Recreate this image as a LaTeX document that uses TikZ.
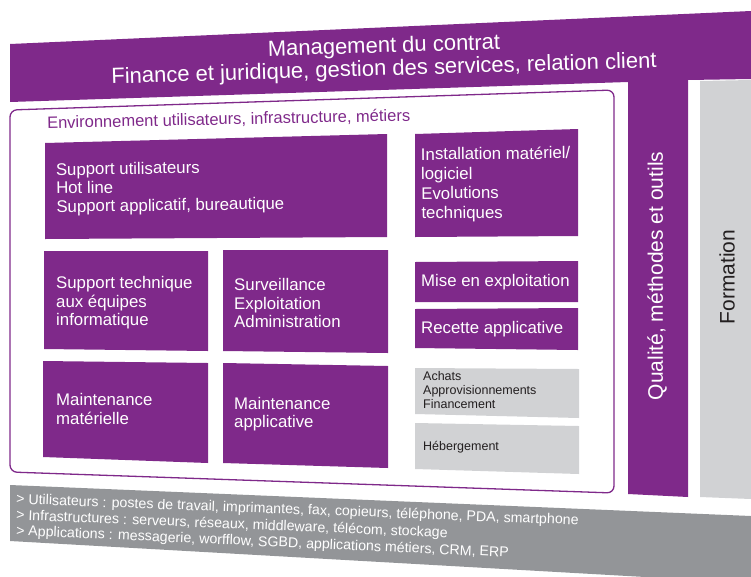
\documentclass[tikz,border=0pt]{standalone}
\usepackage{fontspec}
\setmainfont{Liberation Sans}
\definecolor{vio}{RGB}{127,41,138}
\definecolor{lgray}{RGB}{209,210,212}
\definecolor{dgray}{RGB}{147,149,152}
\definecolor{txtdark}{RGB}{35,31,32}
\begin{document}
\begin{tikzpicture}[x=1pt,y=-1pt,
  vbox/.style={fill=vio},
  gbox/.style={fill=lgray},
  btxt/.style={text=white, font=\fontsize{16.8}{18.5}\selectfont, align=left, inner sep=0pt, anchor=west},
  gtxt/.style={text=txtdark, font=\fontsize{12.5}{14}\selectfont, align=left, inner sep=0pt, anchor=west},
  coltxt/.style={font=\fontsize{21}{23}\selectfont, inner sep=0pt, rotate=90},
  ttxt/.style={text=white, font=\fontsize{22}{23}\selectfont, inner sep=0pt, rotate=1.7},
  foot/.style={text=white, font=\fontsize{14.2}{16}\selectfont, inner sep=0pt, anchor=west}]
\useasboundingbox (0,0) rectangle (751,576);
\clip (0,0) rectangle (751,576);
% banner + quality column
\fill[vio] (10,44) -- (751,11) -- (751,79) -- (688,80) -- (688,497) -- (628,494) -- (628,82) -- (10,102) -- cycle;
% formation column
\fill[lgray] (700,81) -- (751,80) -- (751,499) -- (700,497) -- cycle;
% bottom band
\fill[dgray] (10,485) -- (751,516) -- (751,583) -- (10,541) -- cycle;
% environment frame
\draw[vio, line width=1.3pt, rounded corners=7pt] (10,110) -- (614,90) -- (614,493) -- (10,472) -- cycle;
% boxes
\fill[vbox] (45,143) -- (387,134) -- (387,237) -- (45,239) -- cycle;
\fill[vbox] (415,134) -- (578,129) -- (578,236) -- (415,237) -- cycle;
\fill[vbox] (44,251) -- (208,251) -- (208,351) -- (44,349) -- cycle;
\fill[vbox] (223,250) -- (388,250) -- (388,353) -- (223,351) -- cycle;
\fill[vbox] (415,262) -- (578,261) -- (578,302) -- (415,302) -- cycle;
\fill[vbox] (415,309) -- (578,308) -- (578,350) -- (415,348) -- cycle;
\fill[vbox] (43,361) -- (208,363) -- (208,463) -- (43,457) -- cycle;
\fill[vbox] (223,363) -- (388,366) -- (388,468) -- (223,463) -- cycle;
\fill[gbox] (415,368) -- (579,369) -- (579,418) -- (415,414) -- cycle;
\fill[gbox] (415,423) -- (579,426) -- (579,474) -- (415,469) -- cycle;
% texts
\node[ttxt] (title1) at (384,47) {Management du contrat};
\node[ttxt] (title2) at (384,70) {Finance et juridique, gestion des services, relation client};
\node[text=vio, font=\fontsize{16.5}{18}\selectfont, inner sep=0pt, anchor=west, rotate=1.2] (env) at (47,123.5)
  {Environnement utilisateurs, infrastructure, métiers};
\node[btxt, rotate=0.8] (supu) at (56,189.5) {Support utilisateurs\\Hot line\\Support applicatif, bureautique};
\node[btxt, font=\fontsize{16.8}{19.6}\selectfont, rotate=0.5] (inst) at (421,185) {Installation matériel/\\logiciel\\Evolutions\\techniques};
\node[btxt] (supt) at (56,303) {Support technique\\aux équipes\\informatique};
\node[btxt] (surv) at (234,303) {Surveillance\\Exploitation\\Administration};
\node[btxt] (mise) at (421,282.5) {Mise en exploitation};
\node[btxt] (rec) at (421,329.5) {Recette applicative};
\node[btxt] (mmat) at (56,409) {Maintenance\\matérielle};
\node[btxt] (mapp) at (234,414) {Maintenance\\applicative};
\node[gtxt] (ach) at (423,390) {Achats\\Approvisionnements\\Financement};
\node[gtxt] (heb) at (423,447) {Hébergement};
\node[coltxt, text=white] (qual) at (657,276) {Qualité,\ méthodes et outils};
\node[coltxt, text=txtdark] (form) at (727,277) {Formation};
\node[foot, rotate=-2.15] (f1) at (16,500) {> Utilisateurs : postes de travail, imprimantes, fax, copieurs, téléphone, PDA, smartphone};
\node[foot, rotate=-2.35] (f2) at (16,516) {> Infrastructures : serveurs, réseaux, middleware, télécom, stockage};
\node[foot, rotate=-2.55] (f3) at (16,531.5) {> Applications : messagerie, worfflow, SGBD, applications métiers, CRM, ERP};
\end{tikzpicture}
\end{document}
